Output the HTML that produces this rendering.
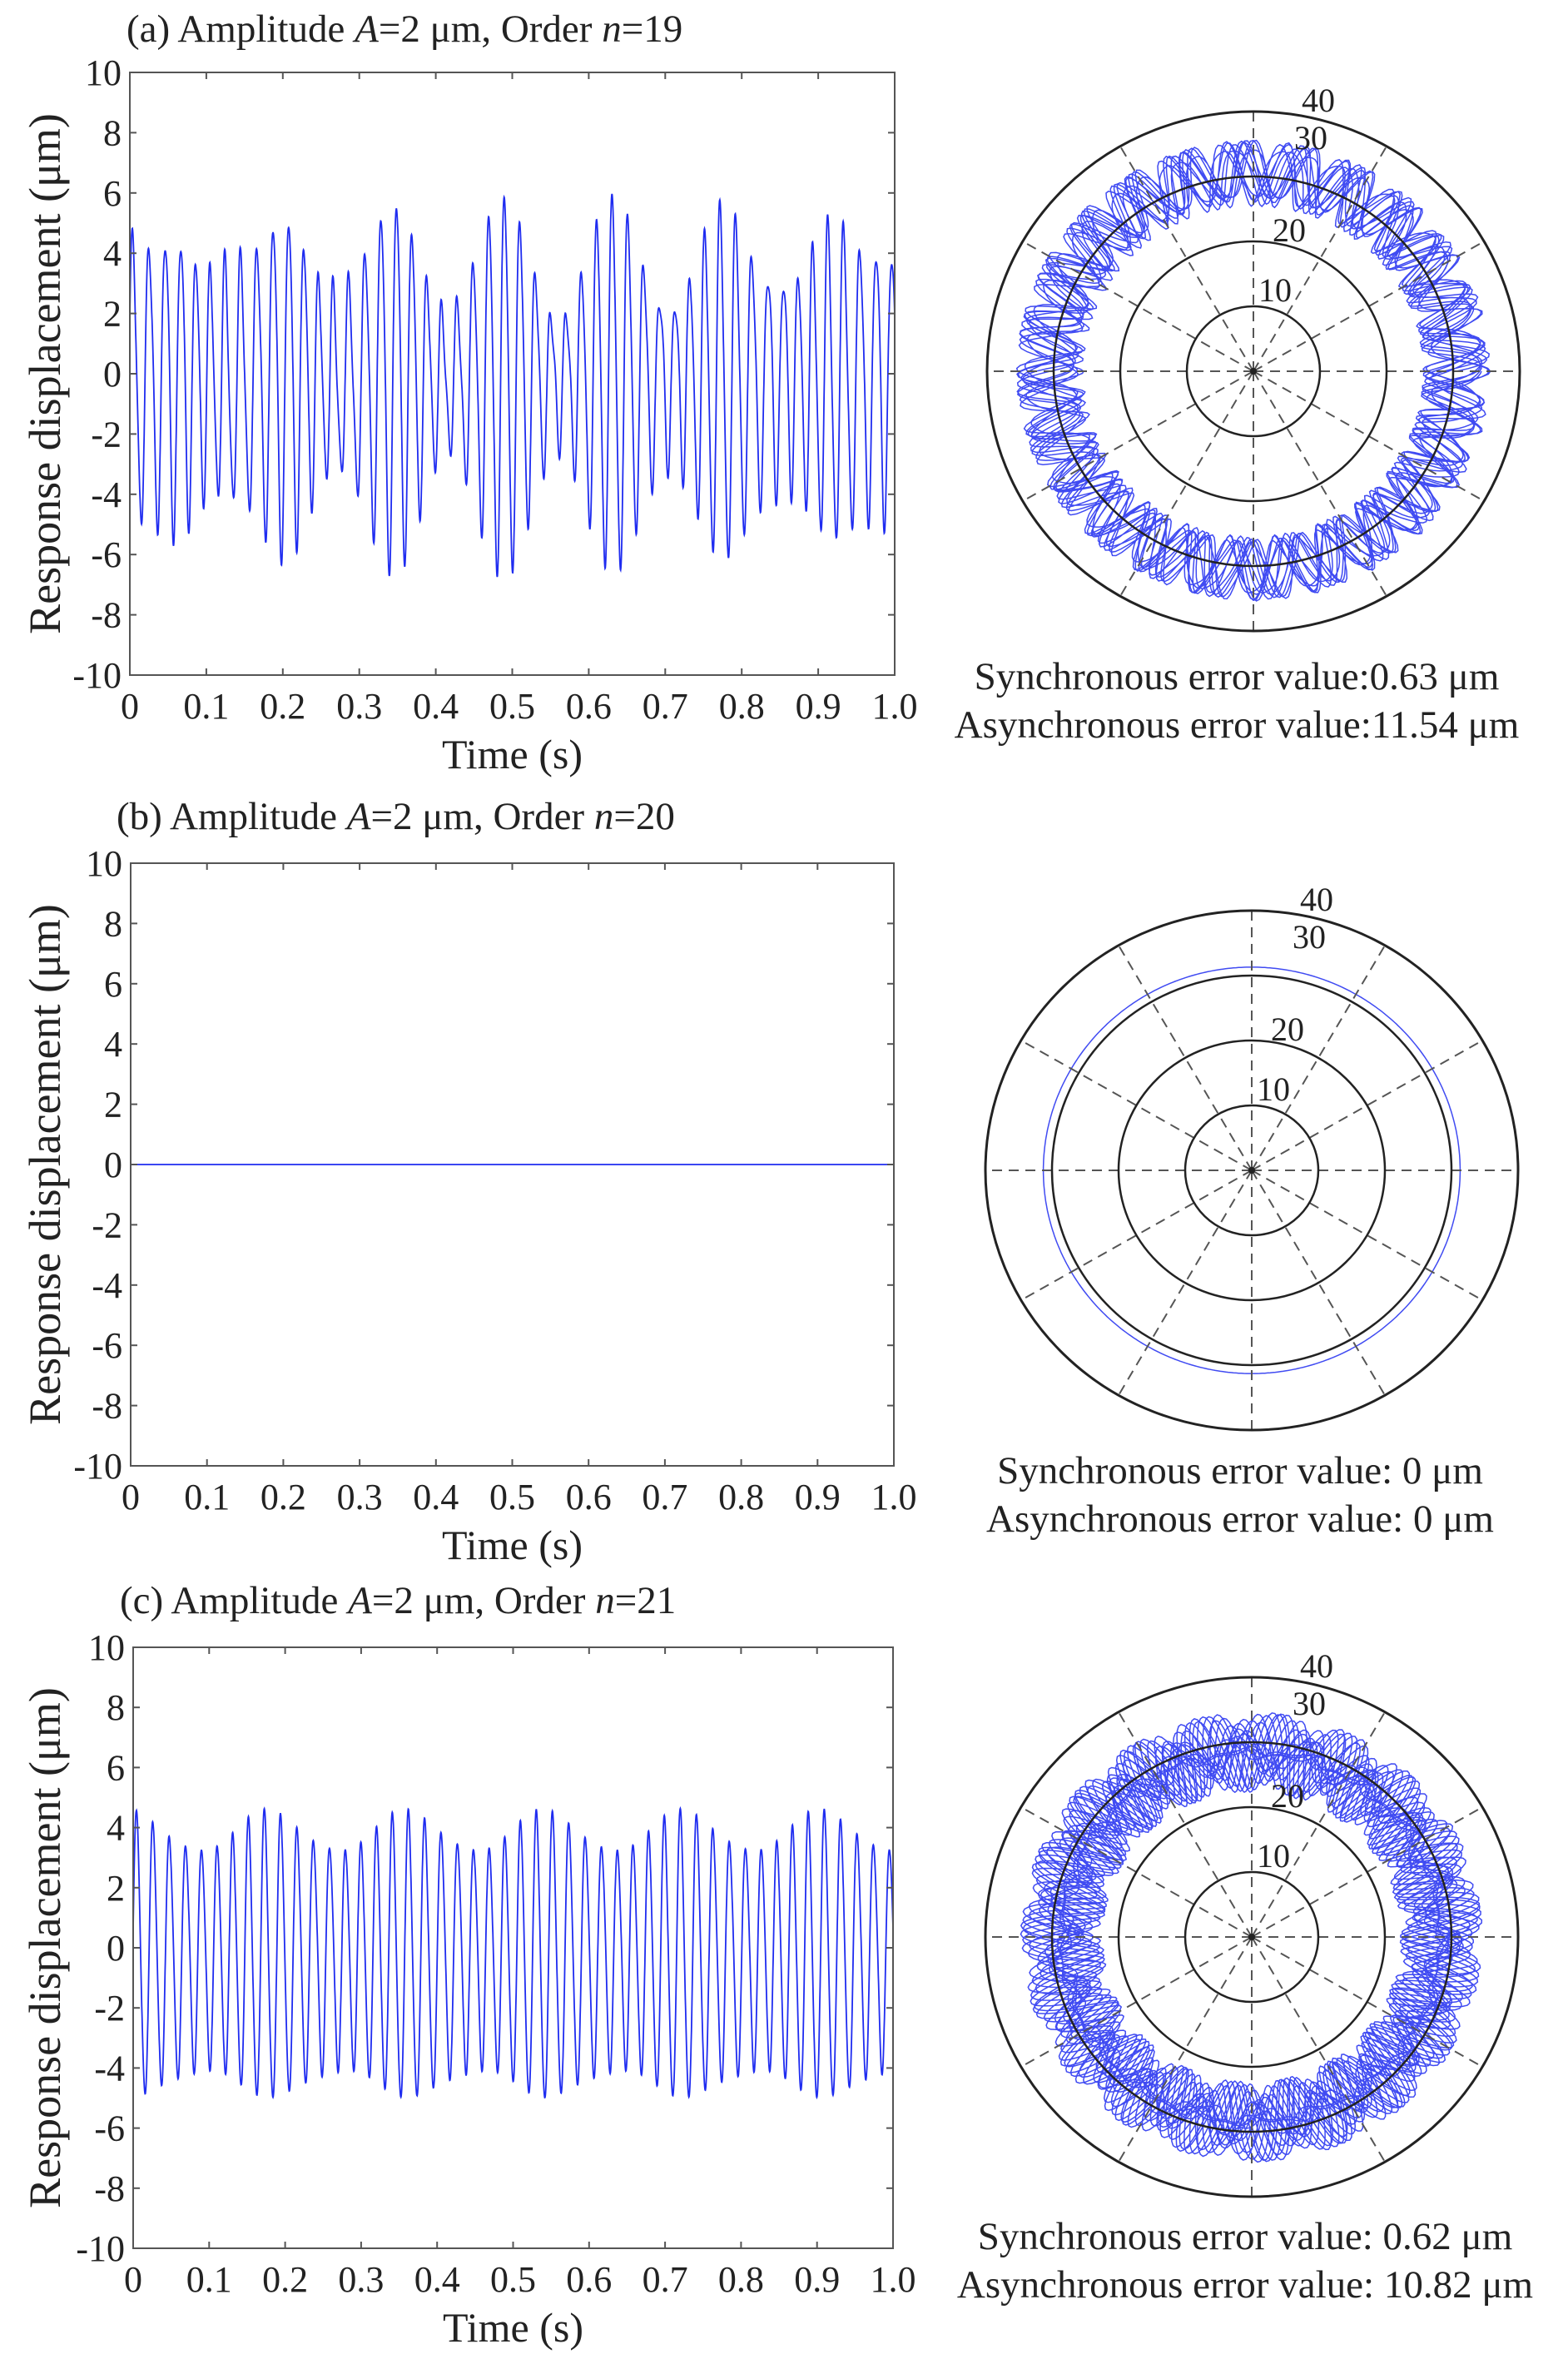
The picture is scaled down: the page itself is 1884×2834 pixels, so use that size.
<!DOCTYPE html>
<html><head><meta charset="utf-8"><style>
html,body{margin:0;padding:0;background:#fff;}
svg{display:block;}
text{font-family:"Liberation Serif",serif;fill:#222;}
</style></head><body>
<svg id="s" width="1884" height="2834" viewBox="0 0 1884 2834" xmlns="http://www.w3.org/2000/svg">
<text x="152" y="50" font-size="47">(a) Amplitude <tspan font-style="italic">A</tspan>=2 μm, Order <tspan font-style="italic">n</tspan>=19</text>
<text x="140" y="996" font-size="47">(b) Amplitude <tspan font-style="italic">A</tspan>=2 μm, Order <tspan font-style="italic">n</tspan>=20</text>
<text x="144" y="1938" font-size="47">(c) Amplitude <tspan font-style="italic">A</tspan>=2 μm, Order <tspan font-style="italic">n</tspan>=21</text>
<text x="1486" y="828" font-size="47" text-anchor="middle">Synchronous error value:0.63 μm</text>
<text x="1486" y="886" font-size="47" text-anchor="middle">Asynchronous error value:11.54 μm</text>
<text x="1490" y="1782" font-size="47" text-anchor="middle">Synchronous error value: 0 μm</text>
<text x="1490" y="1840" font-size="47" text-anchor="middle">Asynchronous error value: 0 μm</text>
<text x="1496" y="2702" font-size="47" text-anchor="middle">Synchronous error value: 0.62 μm</text>
<text x="1496" y="2760" font-size="47" text-anchor="middle">Asynchronous error value: 10.82 μm</text>
<g id="g"></g>
</svg>
<script>
var NS="http://www.w3.org/2000/svg",G=document.getElementById("g");
function el(t,a,txt){var e=document.createElementNS(NS,t);for(var k in a)e.setAttribute(k,a[k]);if(txt!==undefined)e.textContent=txt;G.appendChild(e);return e;}
function tplot(L,T,R,B,f){
  var W=R-L,H=B-T;
  var d="";for(var i=0;i<=3000;i++){var t=i/3000,y=f?f(t):0;var px=L+t*W,py=T+H*(10-y)/20;d+=(i?"L":"M")+px.toFixed(1)+" "+py.toFixed(1);}
  el("path",{d:d,fill:"none",stroke:"#1f2cf0","stroke-width":"1.8"});
  el("rect",{x:L,y:T,width:W,height:H,fill:"none",stroke:"#555","stroke-width":"2"});
  for(var k=0;k<=10;k++){var x=L+W*k/10;
    el("line",{x1:x,y1:B,x2:x,y2:B-8,stroke:"#555","stroke-width":"2"});
    el("line",{x1:x,y1:T,x2:x,y2:T+8,stroke:"#555","stroke-width":"2"});
    el("text",{x:x,y:B+52,"font-size":"44","text-anchor":"middle"},k==0?"0":(k==10?"1.0":"0."+k));}
  for(var v=-10;v<=10;v+=2){var y=T+H*(10-v)/20;
    el("line",{x1:L,y1:y,x2:L+8,y2:y,stroke:"#555","stroke-width":"2"});
    el("line",{x1:R,y1:y,x2:R-8,y2:y,stroke:"#555","stroke-width":"2"});
    el("text",{x:L-10,y:y+15,"font-size":"44","text-anchor":"end"},String(v));}
  el("text",{x:(L+R)/2,y:B+112,"font-size":"50","text-anchor":"middle"},"Time (s)");
  var cy=(T+B)/2;
  el("text",{x:0,y:0,"font-size":"54","text-anchor":"middle",transform:"translate(72,"+cy+") rotate(-90)"},"Response displacement (μm)");
}
function polar(cx,cy,rfun,th){
  var sx=8,sy=7.8;
  if(rfun){var d="";var N=th*500;for(var i=0;i<=N;i++){var a=i/500*2*Math.PI,r=rfun(a);d+=(i?"L":"M")+(cx+r*sx*Math.cos(a)).toFixed(1)+" "+(cy-r*sy*Math.sin(a)).toFixed(1);}
    el("path",{d:d,fill:"none",stroke:"#1f2cf0","stroke-width":"1.5","stroke-opacity":"0.85"});}
  for(var k=0;k<12;k++){var a=k*Math.PI/6;
    el("line",{x1:cx,y1:cy,x2:cx+40*sx*Math.cos(a),y2:cy-40*sy*Math.sin(a),stroke:"#555","stroke-width":"2","stroke-dasharray":"12 8"});}
  for(var r=10;r<=40;r+=10){el("ellipse",{cx:cx,cy:cy,rx:r*sx,ry:r*sy,fill:"none",stroke:"#222","stroke-width":r==40?3:2.5});}
  el("circle",{cx:cx,cy:cy,r:4,fill:"#222"});
  var lb=[[10,26,-98],[20,43,-170],[30,69,-281],[40,78,-326]];
  lb.forEach(function(q){el("text",{x:cx+q[1],y:cy+q[2]+14,"font-size":"40","text-anchor":"middle"},String(q[0]));});
}
tplot(156,87,1075,811,function(t){return 4.2*Math.sin(2*Math.PI*49.5*t)+1.2*Math.sin(2*Math.PI*43*t+1)+0.9*Math.sin(2*Math.PI*57*t+2)+0.6*Math.sin(2*Math.PI*99*t+0.5)-0.2;});
tplot(157,1037,1074,1761,null);
tplot(160,1979,1073,2701,function(t){return 4.1*Math.sin(2*Math.PI*47.5*t)+0.7*Math.sin(2*Math.PI*42*t+0.7)+0.5*Math.sin(2*Math.PI*53*t+1.5)+0.3*Math.sin(2*Math.PI*95*t)-0.3;});
polar(1506,446,function(a){var rev=a/(2*Math.PI);return 30.5+4.3*Math.sin(24*a+Math.sin(rev*1.7)*1.8)+0.8*Math.sin(48*a+rev);},12);
polar(1504,1406,function(a){return 31.3;},1);
polar(1504,2327,function(a){var rev=a/(2*Math.PI);return 28.5+3.2*Math.sin(21*a+rev*1.3)+3*Math.sin(23*a+rev*2.7);},20);
</script>
</body></html>
